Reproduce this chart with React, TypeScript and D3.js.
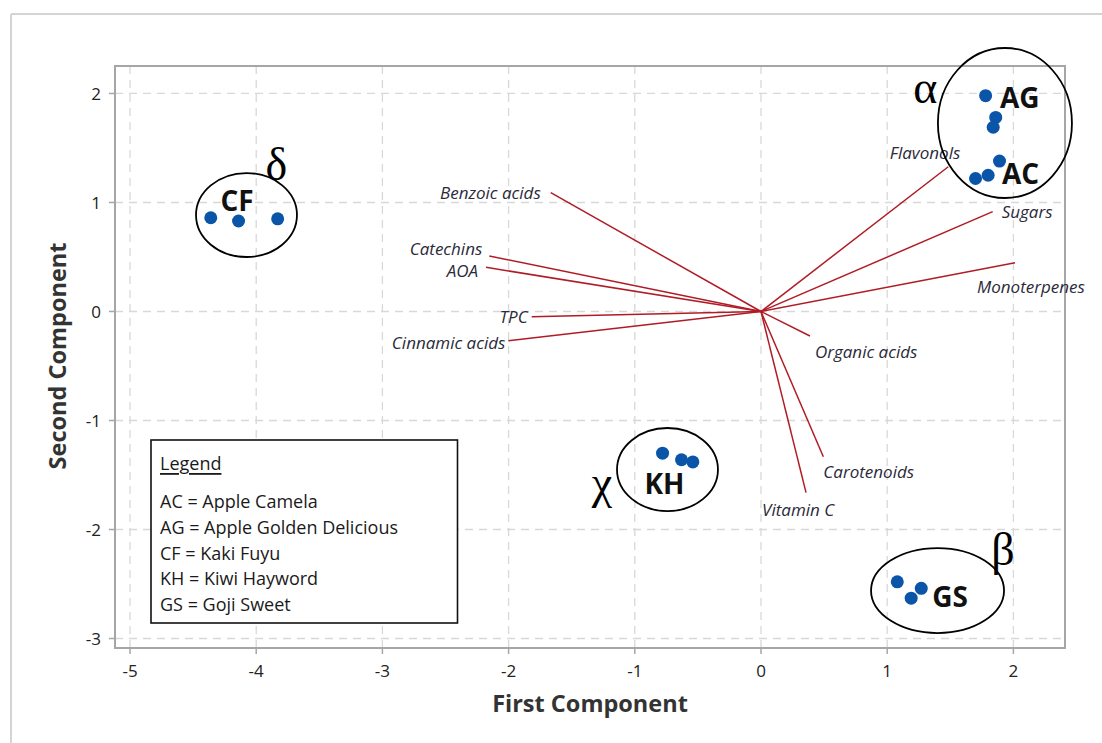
import React from "react";
import * as d3 from "d3";

// PCA biplot: sample scores (first vs second component) and variable loadings

const xTicks = [-5, -4, -3, -2, -1, 0, 1, 2];
const yTicks = [-3, -2, -1, 0, 1, 2];

// Sample scores per cultivar [PC1, PC2]
const acScores: [number, number][] = [[1.70, 1.22], [1.80, 1.25], [1.89, 1.38]];
const agScores: [number, number][] = [[1.78, 1.98], [1.86, 1.78], [1.84, 1.69]];
const cfScores: [number, number][] = [[-4.36, 0.86], [-4.14, 0.83], [-3.83, 0.85]];
const khScores: [number, number][] = [[-0.78, -1.30], [-0.63, -1.36], [-0.54, -1.38]];
const gsScores: [number, number][] = [[1.08, -2.48], [1.19, -2.63], [1.27, -2.54]];

// Variable loadings (scaled) [PC1, PC2]
const loadingNames = [
  "Benzoic acids", "Catechins", "AOA", "TPC", "Cinnamic acids",
  "Flavonols", "Sugars", "Monoterpenes", "Organic acids", "Carotenoids", "Vitamin C",
];
const loadingPC1 = [-1.666, -2.153, -2.179, -1.817, -2.002, 1.484, 1.836, 2.013, 0.388, 0.494, 0.357];
const loadingPC2 = [1.090, 0.509, 0.405, -0.048, -0.268, 1.328, 0.916, 0.448, -0.225, -1.332, -1.662];

// Cluster group annotations
const groupCodes = ["AG", "AC", "CF", "KH", "GS"];
const groupLabelX = [1.894, 1.910, -4.152, -0.765, 1.498];
const groupLabelY = [1.968, 1.271, 1.022, -1.569, -2.610];

const ellipseCx = [1.933, -4.077, -0.741, 1.399];
const ellipseCy = [1.729, 0.885, -1.450, -2.560];
const ellipseRx = [0.531, 0.400, 0.400, 0.527];
const ellipseRy = [0.688, 0.385, 0.381, 0.390];

const greekLetters = ["α", "δ", "χ", "β"];
const greekX = [1.303, -3.840, -1.261, 1.917];
const greekY = [1.915, 1.206, -1.711, -2.325];

const legendLines = [
  "AC = Apple Camela",
  "AG = Apple Golden Delicious",
  "CF = Kaki Fuyu",
  "KH = Kiwi Hayword",
  "GS = Goji Sweet",
];

// label placement for loading names: [dx, dy, anchor]
const loadingLabelLayout: [number, number, string][] = [
  [-10, 0, "end"],
  [-7, -8, "end"],
  [-8, 3, "end"],
  [-4, 0, "end"],
  [-3, 2, "end"],
  [12, -14, "end"],
  [9, 0, "start"],
  [-38, 24, "start"],
  [5, 15, "start"],
  [0, 15, "start"],
  [-44, 17, "start"],
];

const W = 1102;
const H = 743;
const plot = { left: 115, top: 66, right: 1065, bottom: 648 };

const FONT = "'Open Sans', 'Noto Sans', sans-serif";
const SERIF = "'Liberation Serif', 'DejaVu Serif', serif";

export default function App() {
  const x = d3.scaleLinear().domain([-5.119, 2.409]).range([plot.left, plot.right]);
  const y = d3.scaleLinear().domain([-3.087, 2.252]).range([plot.bottom, plot.top]);

  const allScores = [acScores, agScores, cfScores, khScores, gsScores].flat();
  const line = d3.line<[number, number]>().x((d) => x(d[0])).y((d) => y(d[1]));

  return (
    <div style={{ position: "absolute", left: 0, top: 0 }}>
      <svg width={W} height={H} style={{ display: "block", background: "#fff" }}>
        {/* outer frame */}
        <line x1={11} y1={14} x2={W} y2={14} stroke="#d4d4d4" strokeWidth={2} />
        <line x1={11} y1={14} x2={11} y2={H} stroke="#d4d4d4" strokeWidth={2} />

        {/* grid */}
        {xTicks.map((t) => (
          <line key={"gx" + t} x1={x(t)} x2={x(t)} y1={plot.top} y2={plot.bottom}
            stroke="#d8d8d8" strokeWidth={1.3} strokeDasharray="8,6" />
        ))}
        {yTicks.map((t) => (
          <line key={"gy" + t} x1={plot.left} x2={plot.right} y1={y(t)} y2={y(t)}
            stroke="#d8d8d8" strokeWidth={1.3} strokeDasharray="8,6" />
        ))}

        {/* plot border */}
        <rect x={plot.left} y={plot.top} width={plot.right - plot.left} height={plot.bottom - plot.top}
          fill="none" stroke="#a6a6a6" strokeWidth={2} />

        {/* ticks and tick labels */}
        {xTicks.map((t) => (
          <g key={"tx" + t}>
            <line x1={x(t)} x2={x(t)} y1={plot.bottom} y2={plot.bottom + 6} stroke="#a6a6a6" strokeWidth={1.5} />
            <text x={x(t)} y={670} textAnchor="middle" dominantBaseline="central"
              fontFamily={FONT} fontSize={17} fill="#222">{t < 0 ? "-" + Math.abs(t) : t}</text>
          </g>
        ))}
        {yTicks.map((t) => (
          <g key={"ty" + t}>
            <line x1={plot.left - 6} x2={plot.left} y1={y(t)} y2={y(t)} stroke="#a6a6a6" strokeWidth={1.5} />
            <text x={101} y={y(t)} textAnchor="end" dominantBaseline="central"
              fontFamily={FONT} fontSize={17} fill="#222">{t < 0 ? "-" + Math.abs(t) : t}</text>
          </g>
        ))}

        {/* axis titles */}
        <text x={590} y={703} textAnchor="middle" dominantBaseline="central"
          fontFamily={FONT} fontWeight={700} fontSize={23.5} fill="#333">First Component</text>
        <text transform={`translate(57,356) rotate(-90)`} textAnchor="middle" dominantBaseline="central"
          fontFamily={FONT} fontWeight={700} fontSize={23.5} fill="#333">Second Component</text>

        {/* loading vectors */}
        {loadingNames.map((name, i) => (
          <path key={"lv" + name}
            d={line([[0, 0], [loadingPC1[i], loadingPC2[i]]]) || ""}
            stroke="#b01c26" strokeWidth={1.5} fill="none" />
        ))}
        {loadingNames.map((name, i) => {
          const [dx, dy, anchor] = loadingLabelLayout[i];
          return (
            <text key={"ll" + name} x={x(loadingPC1[i]) + dx} y={y(loadingPC2[i]) + dy}
              textAnchor={anchor} dominantBaseline="central" fontFamily={FONT}
              fontStyle="italic" fontSize={17} fill="#2a2a3a">{name}</text>
          );
        })}

        {/* sample scores */}
        {allScores.map((d, i) => (
          <circle key={"s" + i} cx={x(d[0])} cy={y(d[1])} r={6.5} fill="#0a55a8" />
        ))}

        {/* group labels */}
        {groupCodes.map((g, i) => (
          <text key={"g" + g} x={x(groupLabelX[i])} y={y(groupLabelY[i])}
            textAnchor={i < 2 ? "start" : "middle"} dominantBaseline="central"
            fontFamily={FONT} fontWeight={700} fontSize={28} fill="#111">{g}</text>
        ))}

        {/* cluster ellipses */}
        {ellipseCx.map((cx, i) => (
          <ellipse key={"e" + i} cx={x(cx)} cy={y(ellipseCy[i])}
            rx={x(ellipseRx[i]) - x(0)} ry={y(0) - y(ellipseRy[i])}
            fill="none" stroke="#000" strokeWidth={1.8} />
        ))}

        {/* cluster greek labels */}
        {greekLetters.map((g, i) => (
          <text key={"gr" + i} x={x(greekX[i])} y={y(greekY[i])} textAnchor="middle"
            fontFamily={SERIF} fontSize={46} fill="#000">{g}</text>
        ))}

        {/* legend */}
        <rect x={151} y={440} width={306.5} height={183} fill="#fff" stroke="#111" strokeWidth={1.6} />
        <text x={160} y={463} dominantBaseline="central" fontFamily={FONT} fontSize={18}
          fill="#1a1a1a" textDecoration="underline">Legend</text>
        {legendLines.map((s, i) => (
          <text key={"lg" + i} x={160} y={501 + i * 25.8} dominantBaseline="central"
            fontFamily={FONT} fontSize={18} fill="#1a1a1a">{s}</text>
        ))}
      </svg>
    </div>
  );
}
